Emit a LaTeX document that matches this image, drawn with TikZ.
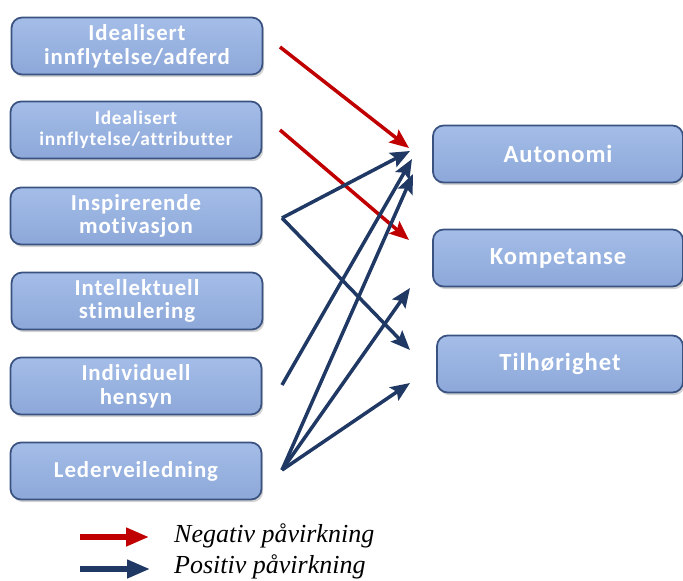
\documentclass[tikz,border=0pt]{standalone}
\usepackage{fontspec}
\setmainfont{Liberation Serif}
\newfontfamily\boxfont[LetterSpace=4,Ligatures=NoCommon]{Carlito}
\usetikzlibrary{arrows.meta,positioning,shadows}
\definecolor{boxblue}{RGB}{148,177,228}
\definecolor{boxedge}{RGB}{58,82,128}
\definecolor{negred}{RGB}{192,0,0}
\definecolor{posblue}{RGB}{31,56,100}

\begin{document}
\begin{tikzpicture}[x=0.02cm, y=-0.02cm, >={Stealth[length=11pt,width=9pt,inset=2pt]},
    factor/.style={draw=boxedge, line width=1pt, top color=boxblue!85!white, bottom color=boxblue!95!black,
        rounded corners=6pt, minimum width=5.02cm, minimum height=1.14cm, align=center,
        text=white, font=\boxfont\bfseries\fontsize{13}{13.5}\selectfont,
        drop shadow={opacity=0.35, shadow xshift=1pt, shadow yshift=-1.5pt}},
    need/.style={factor, font=\boxfont\bfseries\fontsize{14}{16}\selectfont},
    negarrow/.style={negred, line width=2pt, ->},
    posarrow/.style={posblue, line width=2pt, ->},
    legend/.style={anchor=west, font=\itshape\fontsize{14.8}{17}\selectfont}]
    \useasboundingbox (0,0) rectangle (683,581);
    % transformational leadership factors
    \node[factor] (adferd) at (137,46) {Idealisert\\innflytelse/adferd};
    \node[factor, font=\boxfont\bfseries\fontsize{11}{12}\selectfont] (attrib) at (136,130) {Idealisert\\innflytelse/attributter};
    \node[factor] (inspir) at (136,216) {Inspirerende\\motivasjon};
    \node[factor] (intell) at (137,301) {Intellektuell\\stimulering};
    \node[factor] (indiv) at (136,386) {Individuell\\hensyn};
    \node[factor] (leder) at (136,471) {Lederveiledning};
    % basic needs
    \node[need, minimum width=5.0cm] (auton) at (558,154) {Autonomi};
    \node[need, minimum width=5.0cm] (kompet) at (558,258) {Kompetanse};
    \node[need, minimum width=4.92cm] (tilh) at (560,364) {Tilhørighet};
    % arrow ends
    \coordinate (sAdf) at (280,47);
    \coordinate (sAtt) at (280,130);
    \coordinate (sIns) at (282,218);
    \coordinate (sInd) at (282,385);
    \coordinate (sLed) at (282,470);
    \coordinate (tAut1) at (409,148);
    \coordinate (tAut2) at (410,151);
    \coordinate (tAut3) at (412,159);
    \coordinate (tAut4) at (413,174);
    \coordinate (tKom1) at (409,240);
    \coordinate (tKom2) at (410,288);
    \coordinate (tTil1) at (410,350);
    \coordinate (tTil2) at (410,383);
    \draw[negarrow] (sAdf) -- (tAut1);
    \draw[negarrow] (sAtt) -- (tKom1);
    \draw[posarrow] (sIns) -- (tAut2);
    \draw[posarrow] (sIns) -- (tTil1);
    \draw[posarrow] (sInd) -- (tAut3);
    \draw[posarrow] (sLed) -- (tAut4);
    \draw[posarrow] (sLed) -- (tKom2);
    \draw[posarrow] (sLed) -- (tTil2);
    % legend
    \coordinate (lN1) at (80,537);
    \coordinate (lN2) at (149,537);
    \coordinate (lP1) at (80,569);
    \coordinate (lP2) at (150,569);
    \draw[negred, line width=3pt, -{Triangle[length=13pt,width=10pt]}] (lN1) -- (lN2);
    \draw[posblue, line width=3pt, -{Triangle[length=13pt,width=10pt]}] (lP1) -- (lP2);
    \node[legend] (negtxt) at (168,536) {Negativ påvirkning};
    \node[legend] (postxt) at (168,567) {Positiv påvirkning};
\end{tikzpicture}
\end{document}
